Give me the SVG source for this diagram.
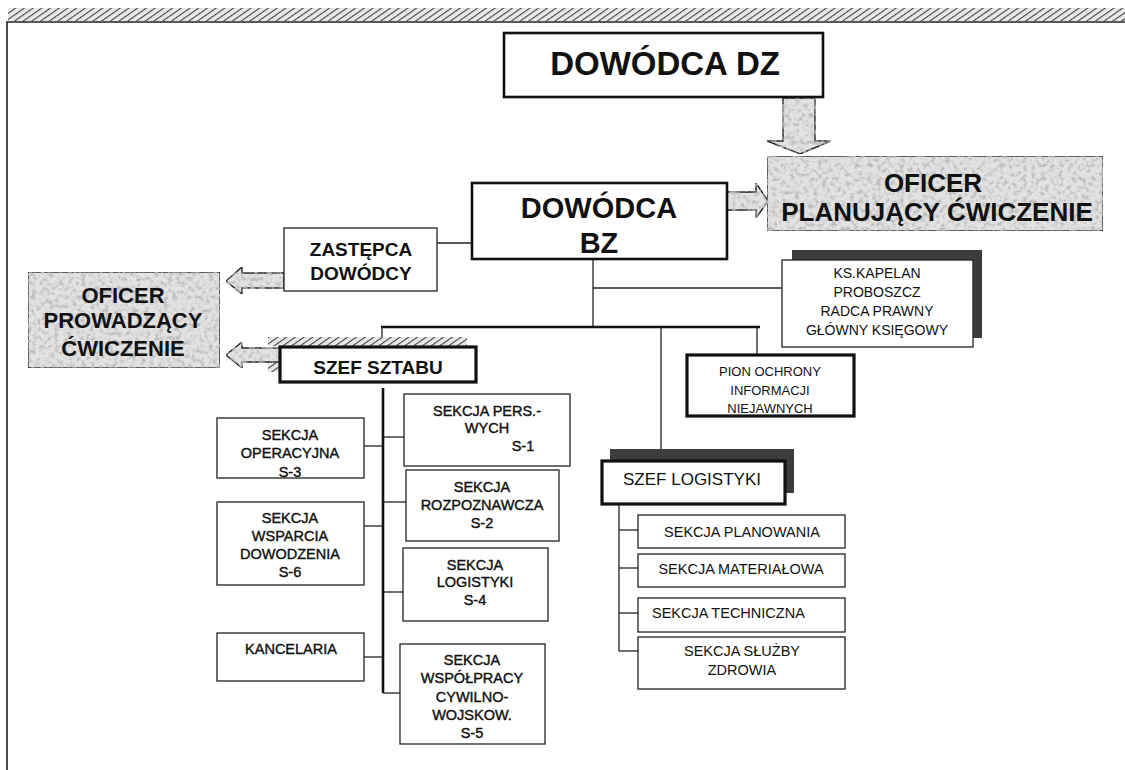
<svg xmlns="http://www.w3.org/2000/svg" width="1125" height="770" viewBox="0 0 1125 770">
  <style>
    text { font-family: "Liberation Sans", Arial, sans-serif; fill: #111; text-anchor: middle; }
    .big { font-weight: bold; }
    .sec { font-size: 14.5px; stroke: #111; stroke-width: 0.4; }
    .log { font-size: 14.5px; }
    .box { fill: #fff; stroke: #222; stroke-width: 1.3; }
    .heavy { fill: #fff; stroke: #111; stroke-width: 2.6; }
    .thick { fill: #fff; stroke: #111; stroke-width: 3.2; }
    .grey { fill: #e2e2e2; stroke: #222; stroke-width: 1.4; filter: url(#grain); }
    .line { fill: none; stroke: #222; stroke-width: 1.3; }
    .bus { fill: none; stroke: #111; stroke-width: 2.6; }
    .shadow { fill: #3c3c3c; }
  </style>
  <defs>
    <pattern id="hatch" patternUnits="userSpaceOnUse" width="5" height="5" patternTransform="rotate(55)">
      <rect width="5" height="5" fill="#e8e8e8"/>
      <line x1="0" y1="0" x2="0" y2="5" stroke="#444" stroke-width="2.2"/>
    </pattern>
    <!-- speckled print texture for the grey panels and block arrows -->
    <filter id="grain" x="0" y="0" width="100%" height="100%">
      <feTurbulence type="fractalNoise" baseFrequency="0.22" numOctaves="4" seed="11" result="noise"/>
      <feColorMatrix in="noise" type="matrix" values="0 0 0 0 0.5  0 0 0 0 0.5  0 0 0 0 0.5  3.2 0 0 0 -1.45" result="specks"/>
      <feComposite in="specks" in2="SourceGraphic" operator="in" result="clip"/>
      <feMerge>
        <feMergeNode in="SourceGraphic"/>
        <feMergeNode in="clip"/>
      </feMerge>
    </filter>
  </defs>

  <rect width="1125" height="770" fill="#fff"/>

  <!-- page frame -->
  <rect x="8" y="8" width="1117" height="13" fill="url(#hatch)"/>
  <path d="M7 770 V22 H1125" fill="none" stroke="#222" stroke-width="1.6"/>

  <!-- connectors -->
  <g id="connectors">
    <line class="line" x1="437" y1="243" x2="472" y2="243"/>
    <line class="line" x1="593" y1="259" x2="593" y2="327"/>
    <line class="line" x1="593" y1="288" x2="782" y2="288"/>
    <line class="bus" x1="381" y1="327" x2="760" y2="327"/>
    <line class="line" x1="382" y1="327" x2="382" y2="340"/>
    <line class="line" x1="661" y1="327" x2="661" y2="460"/>
    <line class="line" x1="757" y1="327" x2="757" y2="356"/>
    <!-- staff spine -->
    <line class="bus" x1="383" y1="388" x2="383" y2="693"/>
    <line class="line" x1="364" y1="446" x2="383" y2="446"/>
    <line class="line" x1="364" y1="526" x2="383" y2="526"/>
    <line class="line" x1="364" y1="657" x2="383" y2="657"/>
    <line class="line" x1="383" y1="437" x2="404" y2="437"/>
    <line class="line" x1="383" y1="502" x2="406" y2="502"/>
    <line class="line" x1="383" y1="592" x2="403" y2="592"/>
    <line class="line" x1="383" y1="693" x2="400" y2="693"/>
    <!-- logistics spine -->
    <line class="line" x1="619" y1="504" x2="619" y2="651"/>
    <line class="line" x1="619" y1="530" x2="638" y2="530"/>
    <line class="line" x1="619" y1="568" x2="638" y2="568"/>
    <line class="line" x1="619" y1="613" x2="638" y2="613"/>
    <line class="line" x1="619" y1="651" x2="638" y2="651"/>
    <!-- block arrows -->
    <polygon class="grey" points="783,98 815,98 815,141 831,141 800,154 767,141 783,141"/>
    <polygon class="grey" points="727,192 756,192 756,183 768,201 756,218 756,210 727,210"/>
    <polygon class="grey" points="284,273 242,273 242,267 226,281 242,294 242,288 284,288"/>
    <polygon class="grey" points="280,348 242,348 242,342 226,355 242,368 242,362 280,362"/>
  </g>

  <g id="dowodca-dz">
    <rect class="heavy" x="504" y="33" width="319" height="64"/>
    <text class="big" x="665" y="75" font-size="33">DOWÓDCA DZ</text>
  </g>

  <g id="oficer-planujacy">
    <rect class="grey" x="767" y="156" width="336" height="75"/>
    <text class="big" x="933" y="192" font-size="26">OFICER</text>
    <text class="big" x="937" y="221" font-size="26">PLANUJĄCY ĆWICZENIE</text>
  </g>

  <g id="dowodca-bz">
    <rect class="heavy" x="472" y="183" width="255" height="76"/>
    <text class="big" x="599" y="218" font-size="29">DOWÓDCA</text>
    <text class="big" x="599" y="253" font-size="29">BZ</text>
  </g>

  <g id="zastepca">
    <rect class="box" x="284" y="228" width="153" height="63" stroke-width="1.6"/>
    <text class="big" x="361" y="256" font-size="19">ZASTĘPCA</text>
    <text class="big" x="361" y="280" font-size="19">DOWÓDCY</text>
  </g>

  <g id="oficer-prowadzacy">
    <rect class="grey" x="28" y="272" width="192" height="96"/>
    <text class="big" x="123" y="303" font-size="22">OFICER</text>
    <text class="big" x="123" y="328" font-size="22">PROWADZĄCY</text>
    <text class="big" x="123" y="356" font-size="22">ĆWICZENIE</text>
  </g>

  <g id="szef-sztabu">
    <rect x="268" y="337" width="199" height="9" fill="url(#hatch)"/>
    <rect x="268" y="363" width="12" height="9" fill="url(#hatch)"/>
    <rect class="thick" x="280" y="347" width="196" height="35"/>
    <text class="big" x="378" y="374" font-size="19">SZEF SZTABU</text>
  </g>

  <g id="kapelan">
    <rect class="shadow" x="792" y="250" width="190" height="88"/>
    <rect class="box" x="782" y="260" width="191" height="87" stroke-width="1.5"/>
    <text x="877" y="278" font-size="14">KS.KAPELAN</text>
    <text x="877" y="297" font-size="14">PROBOSZCZ</text>
    <text x="877" y="316" font-size="14">RADCA PRAWNY</text>
    <text x="877" y="335" font-size="14">GŁÓWNY KSIĘGOWY</text>
  </g>

  <g id="pion-ochrony">
    <rect class="thick" x="687" y="355" width="167" height="61"/>
    <text x="770" y="376" font-size="13">PION OCHRONY</text>
    <text x="770" y="395" font-size="13">INFORMACJI</text>
    <text x="770" y="413" font-size="13">NIEJAWNYCH</text>
  </g>

  <g id="sekcja-operacyjna">
    <rect class="box" x="217" y="418" width="147" height="60"/>
    <text class="sec" x="290" y="440">SEKCJA</text>
    <text class="sec" x="290" y="458">OPERACYJNA</text>
    <text class="sec" x="290" y="477">S-3</text>
  </g>

  <g id="sekcja-wsparcia">
    <rect class="box" x="217" y="502" width="147" height="83"/>
    <text class="sec" x="290" y="523">SEKCJA</text>
    <text class="sec" x="290" y="541">WSPARCIA</text>
    <text class="sec" x="290" y="559">DOWODZENIA</text>
    <text class="sec" x="290" y="577">S-6</text>
  </g>

  <g id="kancelaria">
    <rect class="box" x="217" y="633" width="147" height="48"/>
    <text class="sec" x="291" y="654">KANCELARIA</text>
  </g>

  <g id="sekcja-pers">
    <rect class="box" x="404" y="394" width="166" height="72"/>
    <text class="sec" x="487" y="416">SEKCJA PERS.-</text>
    <text class="sec" x="487" y="433">WYCH</text>
    <text class="sec" x="523" y="451">S-1</text>
  </g>

  <g id="sekcja-rozpoznawcza">
    <rect class="box" x="406" y="470" width="153" height="71"/>
    <text class="sec" x="482" y="492">SEKCJA</text>
    <text class="sec" x="482" y="510">ROZPOZNAWCZA</text>
    <text class="sec" x="482" y="528">S-2</text>
  </g>

  <g id="sekcja-logistyki">
    <rect class="box" x="403" y="548" width="145" height="73"/>
    <text class="sec" x="475" y="570">SEKCJA</text>
    <text class="sec" x="475" y="587">LOGISTYKI</text>
    <text class="sec" x="475" y="605">S-4</text>
  </g>

  <g id="sekcja-wspolpracy">
    <rect class="box" x="400" y="644" width="145" height="100"/>
    <text class="sec" x="472" y="665">SEKCJA</text>
    <text class="sec" x="472" y="683">WSPÓŁPRACY</text>
    <text class="sec" x="472" y="702">CYWILNO-</text>
    <text class="sec" x="472" y="720">WOJSKOW.</text>
    <text class="sec" x="472" y="738">S-5</text>
  </g>

  <g id="szef-logistyki">
    <rect class="shadow" x="610" y="449" width="184" height="44"/>
    <rect class="thick" x="602" y="461" width="183" height="43"/>
    <text x="692" y="485" font-size="17">SZEF LOGISTYKI</text>
  </g>

  <g id="sekcja-planowania">
    <rect class="box" x="638" y="515" width="207" height="33"/>
    <text class="log" x="742" y="537">SEKCJA PLANOWANIA</text>
  </g>

  <g id="sekcja-materialowa">
    <rect class="box" x="638" y="554" width="207" height="33"/>
    <text class="log" x="741" y="574">SEKCJA MATERIAŁOWA</text>
  </g>

  <g id="sekcja-techniczna">
    <rect class="box" x="638" y="598" width="207" height="34"/>
    <text class="log" x="652" y="618" style="text-anchor:start">SEKCJA TECHNICZNA</text>
  </g>

  <g id="sekcja-zdrowia">
    <rect class="box" x="638" y="637" width="207" height="52"/>
    <text class="log" x="742" y="656">SEKCJA SŁUŻBY</text>
    <text class="log" x="742" y="675">ZDROWIA</text>
  </g>
</svg>
